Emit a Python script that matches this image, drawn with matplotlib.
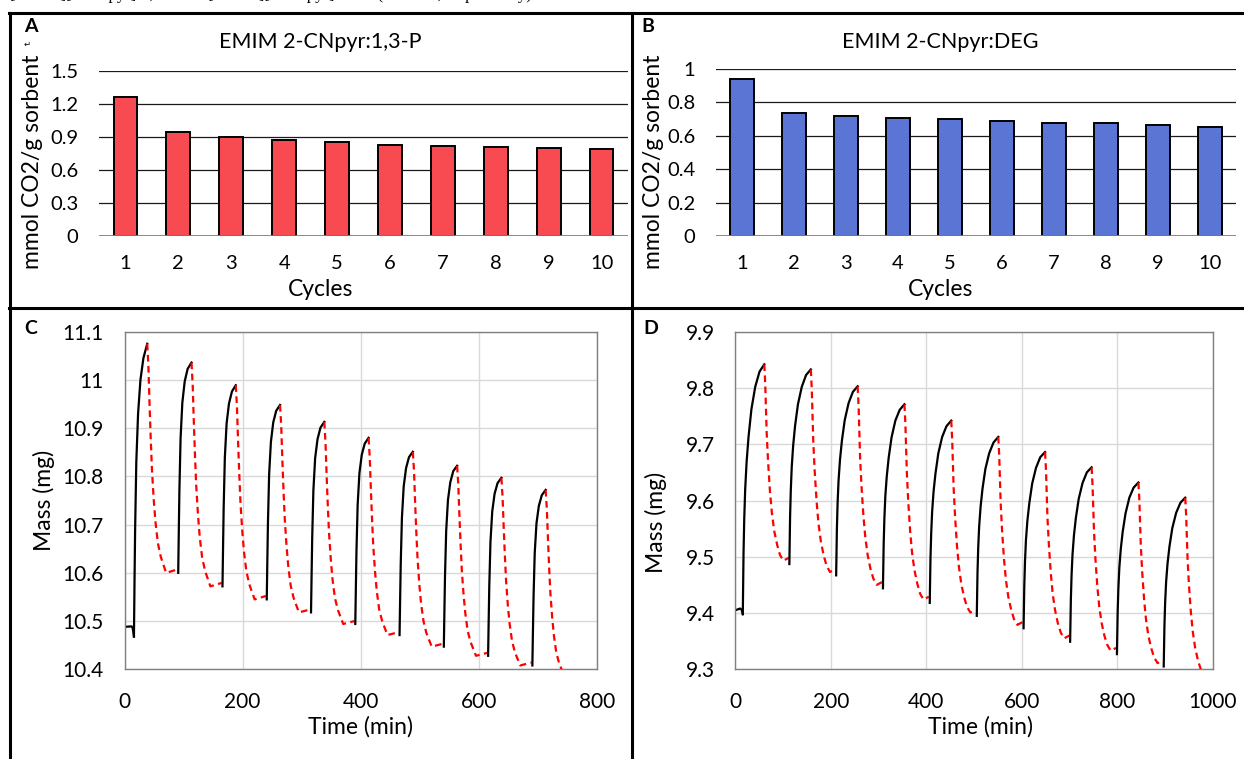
import matplotlib
matplotlib.use("Agg")
import matplotlib.pyplot as plt
from matplotlib.lines import Line2D

plt.rcParams['font.family'] = ['Lato', 'DejaVu Sans']

W, H = 1244, 759

# ---- top bar charts: CO2 capacity per cycle ----
CYCLES = [1, 2, 3, 4, 5, 6, 7, 8, 9, 10]
CAPACITY_A = [1.268, 0.945, 0.896, 0.869, 0.851, 0.829, 0.817, 0.805, 0.796, 0.787]
CAPACITY_B = [0.942, 0.738, 0.718, 0.708, 0.700, 0.690, 0.678, 0.674, 0.662, 0.654]
YTICKS_A = [0, 0.3, 0.6, 0.9, 1.2, 1.5]
YTICKS_B = [0, 0.2, 0.4, 0.6, 0.8, 1.0]

# ---- panel C: mass trace, EMIM 2-CNpyr:1,3-P ----
C_PRE_T = [0, 12, 14, 16]
C_PRE_M = [10.488, 10.489, 10.485, 10.468]
C_START = [16, 91, 166, 241, 316, 391, 466, 541, 616, 691]
C_ABS_DT = [0, 1, 2, 4, 7, 11, 16, 22.5]
C_ABS_M = [
    [10.468, 10.585, 10.690, 10.830, 10.930, 11.000, 11.045, 11.075],
    [10.600, 10.687, 10.770, 10.879, 10.953, 10.997, 11.023, 11.036],
    [10.572, 10.655, 10.735, 10.839, 10.910, 10.951, 10.976, 10.989],
    [10.545, 10.626, 10.702, 10.803, 10.871, 10.912, 10.936, 10.948],
    [10.518, 10.597, 10.672, 10.771, 10.838, 10.877, 10.901, 10.913],
    [10.494, 10.571, 10.645, 10.741, 10.807, 10.845, 10.868, 10.880],
    [10.471, 10.547, 10.619, 10.714, 10.779, 10.817, 10.840, 10.851],
    [10.447, 10.522, 10.593, 10.687, 10.751, 10.788, 10.811, 10.822],
    [10.428, 10.502, 10.572, 10.664, 10.727, 10.764, 10.786, 10.797],
    [10.408, 10.481, 10.550, 10.641, 10.703, 10.739, 10.761, 10.772],
]
C_DES_DT = [0, 2, 4, 6, 8, 11, 14, 18, 23, 32, 51]
C_DES_M = [
    [11.075, 11.028, 10.947, 10.876, 10.814, 10.752, 10.705, 10.662, 10.633, 10.600, 10.607],
    [11.036, 10.990, 10.911, 10.841, 10.781, 10.720, 10.674, 10.632, 10.604, 10.572, 10.579],
    [10.989, 10.945, 10.869, 10.803, 10.745, 10.687, 10.643, 10.603, 10.576, 10.545, 10.552],
    [10.948, 10.905, 10.832, 10.767, 10.712, 10.656, 10.613, 10.574, 10.548, 10.518, 10.524],
    [10.913, 10.871, 10.800, 10.737, 10.683, 10.628, 10.586, 10.548, 10.523, 10.494, 10.500],
    [10.880, 10.839, 10.770, 10.708, 10.655, 10.602, 10.561, 10.524, 10.500, 10.471, 10.477],
    [10.851, 10.811, 10.742, 10.681, 10.629, 10.576, 10.536, 10.500, 10.475, 10.447, 10.453],
    [10.822, 10.783, 10.716, 10.657, 10.605, 10.554, 10.515, 10.479, 10.456, 10.428, 10.434],
    [10.797, 10.758, 10.692, 10.634, 10.583, 10.532, 10.494, 10.459, 10.435, 10.408, 10.414],
    [10.772, 10.733, 10.668, 10.609, 10.559, 10.509, 10.470, 10.435, 10.412, 10.385],
]

# ---- panel D: mass trace, EMIM 2-CNpyr:DEG ----
D_PRE_T = [0, 10, 13, 15.5]
D_PRE_M = [9.405, 9.408, 9.406, 9.398]
D_START = [15.5, 113, 211, 309, 407, 505.5, 603.5, 701, 799, 897]
D_ABS_DT = [0, 1.5, 3, 5, 8, 12, 18, 26, 35, 45]
D_ABS_M = [
    [9.398, 9.505, 9.567, 9.620, 9.669, 9.713, 9.762, 9.802, 9.829, 9.842],
    [9.487, 9.570, 9.618, 9.660, 9.698, 9.733, 9.771, 9.802, 9.823, 9.833],
    [9.467, 9.548, 9.595, 9.635, 9.672, 9.706, 9.743, 9.773, 9.793, 9.803],
    [9.444, 9.522, 9.568, 9.608, 9.643, 9.676, 9.712, 9.742, 9.761, 9.771],
    [9.418, 9.496, 9.541, 9.580, 9.616, 9.648, 9.684, 9.713, 9.732, 9.742],
    [9.395, 9.471, 9.516, 9.554, 9.589, 9.621, 9.656, 9.684, 9.703, 9.713],
    [9.373, 9.448, 9.492, 9.530, 9.564, 9.595, 9.630, 9.658, 9.677, 9.686],
    [9.349, 9.423, 9.467, 9.504, 9.538, 9.569, 9.603, 9.631, 9.650, 9.659],
    [9.327, 9.400, 9.443, 9.480, 9.513, 9.544, 9.577, 9.605, 9.623, 9.632],
    [9.305, 9.377, 9.419, 9.455, 9.488, 9.518, 9.551, 9.578, 9.596, 9.605],
]
D_DES_DT = [0, 2, 5, 8, 12, 16, 21, 27, 33, 40, 51]
D_DES_M = [
    [9.842, 9.807, 9.720, 9.668, 9.615, 9.577, 9.545, 9.521, 9.503, 9.493, 9.498],
    [9.833, 9.797, 9.707, 9.653, 9.599, 9.559, 9.527, 9.502, 9.484, 9.473, 9.478],
    [9.803, 9.768, 9.679, 9.627, 9.574, 9.535, 9.503, 9.478, 9.461, 9.450, 9.455],
    [9.771, 9.736, 9.650, 9.598, 9.545, 9.507, 9.476, 9.452, 9.434, 9.424, 9.429],
    [9.742, 9.708, 9.623, 9.572, 9.520, 9.483, 9.452, 9.428, 9.411, 9.401, 9.406],
    [9.713, 9.680, 9.596, 9.546, 9.496, 9.459, 9.429, 9.406, 9.389, 9.379, 9.384],
    [9.686, 9.653, 9.570, 9.521, 9.471, 9.434, 9.405, 9.381, 9.365, 9.355, 9.360],
    [9.659, 9.626, 9.545, 9.496, 9.447, 9.411, 9.382, 9.359, 9.343, 9.333, 9.338],
    [9.632, 9.600, 9.520, 9.472, 9.423, 9.388, 9.359, 9.337, 9.321, 9.311, 9.316],
    [9.605, 9.574, 9.495, 9.448, 9.400, 9.366, 9.337, 9.315, 9.299, 9.290],
]

RED = '#F84A51'
BLUE = '#5A75D4'

TICK_FS = 14.5
LABEL_FS = 16.5


def box(x0, y0, x1, y1):
    # pixel box (top-left origin) -> figure fraction rect
    return [x0 / W, 1 - y1 / H, (x1 - x0) / W, (y1 - y0) / H]


def ftext(x, y, s, **kw):
    fig.text(x / W, 1 - y / H, s, ha=kw.pop('ha', 'center'), va=kw.pop('va', 'center'), **kw)


def bar_panel(rect, values, color, yticks, labels):
    ax = fig.add_axes(rect)
    ax.bar(CYCLES, values, width=0.45, color=color, edgecolor='black', linewidth=1.4, zorder=3)
    ax.set_xlim(0.5, 10.5)
    ax.set_ylim(0, yticks[-1])
    ax.set_yticks(yticks)
    ax.set_yticklabels(labels)
    ax.set_xticks(CYCLES)
    for s in ax.spines.values():
        s.set_visible(False)
    for y in yticks[1:]:
        ax.axhline(y, color='#1a1a1a', lw=0.9, zorder=1)
    ax.axhline(0, color='#808080', lw=1.3, zorder=4)
    ax.tick_params(length=0, labelsize=TICK_FS)
    ax.tick_params(axis='x', pad=14)
    ax.tick_params(axis='y', pad=15)
    return ax


def mass_panel(rect, pre_t, pre_m, starts, abs_dt, abs_m, des_dt, des_m, xlim, xticks, ylim, yticks, ylabels):
    ax = fig.add_axes(rect)
    ax.plot(pre_t, pre_m, color='black', lw=1.6)
    for k in range(len(starts)):
        ta = [starts[k] + d for d in abs_dt]
        ax.plot(ta, abs_m[k], color='black', lw=1.6, zorder=3)
        tp = ta[-1]
        td = [tp + d for d in des_dt[:len(des_m[k])]]
        ax.plot(td, des_m[k], color='red', lw=1.6, linestyle=(0, (3, 2)), zorder=3)
    ax.set_xlim(*xlim)
    ax.set_ylim(*ylim)
    ax.set_xticks(xticks)
    ax.set_yticks(yticks)
    ax.set_yticklabels(ylabels)
    ax.grid(True, color='#D9D9D9', lw=1.0)
    ax.set_axisbelow(True)
    for s in ax.spines.values():
        s.set_color('#808080')
        s.set_linewidth(1.0)
    ax.tick_params(length=0, labelsize=TICK_FS + 0.5)
    ax.tick_params(axis='x', pad=16)
    ax.tick_params(axis='y', pad=15)
    return ax


fig = plt.figure(figsize=(W / 100, H / 100), dpi=100)

# table borders of the document
lw_border = 2.2
for (x0, y0, x1, y1) in [(9, 12.5, W, 12.5), (10, 12.5, 10, H), (632, 12.5, 632, H), (9, 308, W, 308)]:
    fig.add_artist(Line2D([x0 / W, x1 / W], [1 - y0 / H, 1 - y1 / H], color='black', lw=lw_border))

# bottom edge of the caption line above the table (only descenders show)
fig.text(10 / W, 1 + 1 / H, '[EMIM][2-CNpyr]:1,3-P and [EMIM][2-CNpyr]:DEG (A and B, respectively).',
         ha='left', va='baseline', fontsize=12, family='Liberation Serif')

bar_panel(box(99, 71, 628, 236), CAPACITY_A, RED, YTICKS_A, ['0', '0.3', '0.6', '0.9', '1.2', '1.5'])
bar_panel(box(716, 69, 1236, 236), CAPACITY_B, BLUE, YTICKS_B, ['0', '0.2', '0.4', '0.6', '0.8', '1'])

mass_panel(box(124.5, 331.7, 596.7, 669.3), C_PRE_T, C_PRE_M, C_START, C_ABS_DT, C_ABS_M, C_DES_DT, C_DES_M,
           (0, 800), [0, 200, 400, 600, 800], (10.4, 11.1),
           [10.4, 10.5, 10.6, 10.7, 10.8, 10.9, 11.0, 11.1],
           ['10.4', '10.5', '10.6', '10.7', '10.8', '10.9', '11', '11.1'])
mass_panel(box(735.4, 331.7, 1212.9, 669.3), D_PRE_T, D_PRE_M, D_START, D_ABS_DT, D_ABS_M, D_DES_DT, D_DES_M,
           (0, 1000), [0, 200, 400, 600, 800, 1000], (9.3, 9.9),
           [9.3, 9.4, 9.5, 9.6, 9.7, 9.8, 9.9],
           ['9.3', '9.4', '9.5', '9.6', '9.7', '9.8', '9.9'])

# titles, axis labels, panel letters
ftext(320, 42, 'EMIM 2-CNpyr:1,3-P', fontsize=15.5)
ftext(940, 42, 'EMIM 2-CNpyr:DEG', fontsize=15.5)
ftext(321, 290, 'Cycles', fontsize=LABEL_FS)
ftext(941, 290, 'Cycles', fontsize=LABEL_FS)
ftext(33, 162, 'mmol CO2/g sorbent', fontsize=LABEL_FS, rotation=90)
ftext(653, 162, 'mmol CO2/g sorbent', fontsize=LABEL_FS, rotation=90)
ftext(44, 500, 'Mass (mg)', fontsize=LABEL_FS, rotation=90)
ftext(656, 522, 'Mass (mg)', fontsize=LABEL_FS, rotation=90)
ftext(361, 727, 'Time (min)', fontsize=LABEL_FS)
ftext(980, 727, 'Time (min)', fontsize=LABEL_FS)
ftext(31, 27, 'A', fontsize=14, weight='bold')
ftext(27, 44, '\u21b5', fontsize=6, family='DejaVu Sans')
ftext(648, 27, 'B', fontsize=14, weight='bold')
ftext(31, 329, 'C', fontsize=14, weight='bold')
ftext(651, 329, 'D', fontsize=14, weight='bold')

fig.savefig('out.png', dpi=100)
